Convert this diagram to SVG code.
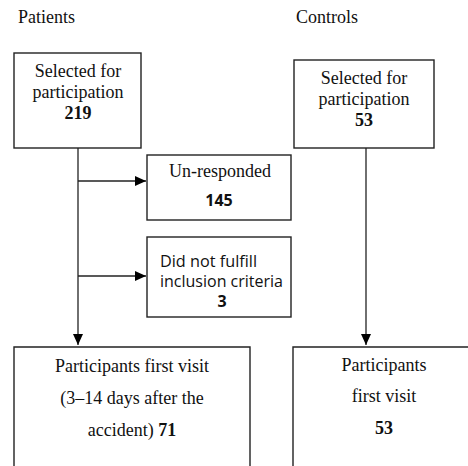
<svg xmlns="http://www.w3.org/2000/svg" width="468" height="466" viewBox="0 0 468 466">
<defs>
<marker id="arr" viewBox="0 0 11 10" refX="11" refY="5" markerWidth="11" markerHeight="10" markerUnits="userSpaceOnUse" orient="auto">
<path d="M0,0 L11,5 L0,10 z" fill="#000"/>
</marker>
</defs>
<style>
.box{fill:#fff;stroke:#222;stroke-width:1.4}
.line{fill:none;stroke:#222;stroke-width:1.3}
.serif{font-size:18px;fill:#111}
.sans{font-size:16px;fill:#111}
.b{font-weight:bold}
.c{text-anchor:middle}
</style>
<rect width="468" height="466" fill="#fff"/>
<text class="serif" font-family="Liberation Serif, serif" x="18" y="23">Patients</text>
<text class="serif" font-family="Liberation Serif, serif" x="296" y="23">Controls</text>
<g id="connectors">
<path class="line" d="M78,148 V345" marker-end="url(#arr)"/>
<path class="line" d="M78,181 H146" marker-end="url(#arr)"/>
<path class="line" d="M78,276 H146" marker-end="url(#arr)"/>
<path class="line" d="M366,148 V345" marker-end="url(#arr)"/>
</g>
<g id="patients-selected" font-family="Liberation Serif, serif">
<rect class="box" x="14" y="53" width="127" height="95"/>
<text class="serif c" x="78" y="77">Selected for</text>
<text class="serif c" x="78" y="98">participation</text>
<text class="serif c b" x="78" y="119">219</text>
</g>
<g id="controls-selected" font-family="Liberation Serif, serif">
<rect class="box" x="294" y="60" width="140" height="88"/>
<text class="serif c" x="364" y="84">Selected for</text>
<text class="serif c" x="364" y="105">participation</text>
<text class="serif c b" x="364" y="126">53</text>
</g>
<g id="unresponded">
<rect class="box" x="147" y="155" width="144" height="65"/>
<text class="serif c" font-family="Liberation Serif, serif" x="220" y="177">Un-responded</text>
<text class="sans c b" font-family="Open Sans, sans-serif" x="219" y="206">145</text>
</g>
<g id="not-fulfill" font-family="Open Sans, sans-serif">
<rect class="box" x="147" y="237" width="144" height="80"/>
<text class="sans" x="160" y="267" textLength="97" lengthAdjust="spacingAndGlyphs">Did not fulfill</text>
<text class="sans" x="160" y="287" textLength="123" lengthAdjust="spacingAndGlyphs">inclusion criteria</text>
<text class="sans c b" x="222" y="307">3</text>
</g>
<g id="patients-first-visit" font-family="Liberation Serif, serif">
<path class="box" d="M14,470 V347 H250 V470"/>
<text class="serif c" x="132" y="372">Participants first visit</text>
<text class="serif c" x="132" y="404">(3–14 days after the</text>
<text class="serif c" x="132" y="436">accident) <tspan class="b">71</tspan></text>
</g>
<g id="controls-first-visit" font-family="Liberation Serif, serif">
<path class="box" d="M293,470 V347 H472"/>
<text class="serif c" x="384" y="371">Participants</text>
<text class="serif c" x="384" y="402">first visit</text>
<text class="serif c b" x="384" y="434">53</text>
</g>
</svg>
